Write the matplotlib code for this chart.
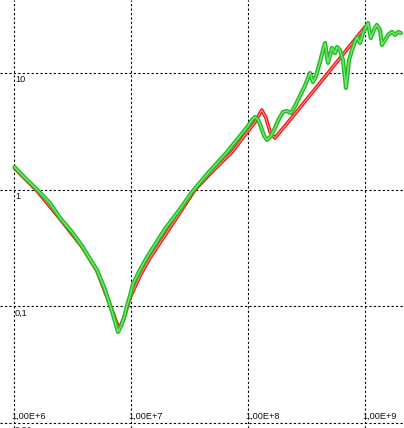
import matplotlib
matplotlib.use("Agg")
import matplotlib.pyplot as plt
from matplotlib.transforms import offset_copy

# measured |Z| (green) and model (red), frequency in Hz, impedance in ohm
green_freq = [1.00e6, 1.23e6, 1.56e6, 2.01e6, 2.45e6, 3.10e6, 3.78e6, 4.42e6, 5.07e6,
              5.82e6, 6.55e6, 7.09e6, 7.66e6, 8.13e6, 8.63e6, 9.15e6, 9.71e6,
              1.03e7, 1.18e7, 1.36e7, 1.93e7, 2.60e7, 3.29e7, 4.51e7, 6.55e7, 9.90e7,
              1.07e8, 1.14e8, 1.21e8, 1.28e8, 1.36e8, 1.44e8, 1.56e8, 1.68e8, 1.82e8,
              1.97e8, 2.13e8, 2.31e8, 2.50e8, 2.75e8, 2.98e8, 3.23e8, 3.35e8, 3.56e8,
              3.78e8, 4.08e8, 4.33e8, 4.51e8, 4.78e8, 5.17e8, 5.49e8, 5.71e8, 6.05e8,
              6.42e8, 6.81e8, 7.23e8, 7.82e8, 8.46e8, 8.98e8, 9.52e8, 1.03e9, 1.05e9,
              1.11e9, 1.18e9, 1.25e9, 1.33e9, 1.38e9, 1.47e9, 1.56e9, 1.68e9, 1.79e9,
              1.90e9, 2.01e9]
green_z = [1.565, 1.26, 1.00, 0.769, 0.572, 0.434, 0.329, 0.255, 0.205,
           0.147, 0.103, 0.0795, 0.0603, 0.0679, 0.0795, 0.101, 0.123,
           0.156, 0.205, 0.265, 0.460, 0.683, 0.956, 1.39, 2.10, 3.51,
           3.96, 4.20, 3.96, 3.44, 2.89, 2.67, 2.89, 3.38, 4.04,
           4.63, 4.72, 4.54, 5.21, 6.35, 7.44, 9.06, 10.0, 8.37,
           9.43, 12.4, 15.7, 18.1, 12.2, 16.4, 14.8, 16.7, 15.7,
           12.9, 7.44, 12.9, 16.7, 20.3, 18.1, 22.0, 25.8, 26.8,
           19.9, 23.4, 25.8, 23.4, 17.4, 19.2, 21.2, 22.5, 21.2,
           22.5, 22.0]

red_freq = [1.00e6, 1.56e6, 2.45e6, 3.78e6, 5.07e6, 6.55e6, 7.82e6, 8.63e6, 9.71e6,
            1.18e7, 1.44e7, 2.13e7, 3.49e7, 5.07e7, 7.23e7, 9.90e7, 1.14e8, 1.30e8,
            1.41e8, 1.53e8, 1.68e8, 2.26e8, 4.08e8, 6.05e8, 9.90e8]
red_z = [1.53, 0.975, 0.561, 0.323, 0.201, 0.103, 0.064, 0.0795, 0.118,
         0.182, 0.260, 0.470, 1.00, 1.48, 2.10, 3.18, 3.80, 4.82,
         4.12, 3.12, 2.77, 3.96, 8.21, 13.4, 24.8]

x_ticks = [1e6, 1e7, 1e8, 1e9]
x_labels = ["1,00E+6", "1,00E+7", "1,00E+8", "1,00E+9"]
y_ticks = [0.01, 0.1, 1, 10]
y_labels = ["0,01", "0,1", "1", "10"]

fig = plt.figure(figsize=(4.04, 4.28), dpi=100)
ax = fig.add_axes([0, 0, 1, 1])
ax.set_xscale("log")
ax.set_yscale("log")
ax.set_xlim(10 ** (6 - 14.5 / 117), 10 ** (6 + 389.5 / 117))
ax.set_ylim(10 ** (1 - 355 / 116.7), 10 ** (1 + 73 / 116.7))

for xv in x_ticks:
    ax.axvline(xv, color="black", lw=0.8, linestyle=(0, (2, 2)), zorder=1)
for yv in y_ticks:
    ax.axhline(yv, color="black", lw=0.8, linestyle=(0, (2, 2)), zorder=1)

# thick "tube" lines: dark outer stroke with a lighter core, like chained circles
ax.plot(red_freq, red_z, color="#f01818", lw=2.6, solid_joinstyle="round",
        solid_capstyle="round", zorder=2)
ax.plot(red_freq, red_z, color="#ff8a8a", lw=0.8, zorder=2)
ax.plot(green_freq, green_z, color="#1cbf1c", lw=3.0, solid_joinstyle="round",
        solid_capstyle="round", zorder=3)
ax.plot(green_freq, green_z, color="#7ee07e", lw=1.0, zorder=3)

for sp in ax.spines.values():
    sp.set_visible(False)
ax.set_xticks([])
ax.set_yticks([])
ax.minorticks_off()

font = dict(family="Liberation Sans", size=6.6, color="#111111")
xt = offset_copy(ax.get_xaxis_transform(), fig=fig, x=-3.5, y=0, units="dots")
for xv, lab in zip(x_ticks, x_labels):
    ax.text(xv, 1 - 416 / 428, lab, transform=xt, ha="left", va="center", **font)
yt = offset_copy(ax.get_yaxis_transform(), fig=fig, x=0, y=-7, units="dots")
for yv, lab in zip(y_ticks, y_labels):
    ax.text(15 / 404, yv, lab, transform=yt, ha="left", va="center", **font)

fig.savefig("out.png", dpi=100, facecolor="white")
